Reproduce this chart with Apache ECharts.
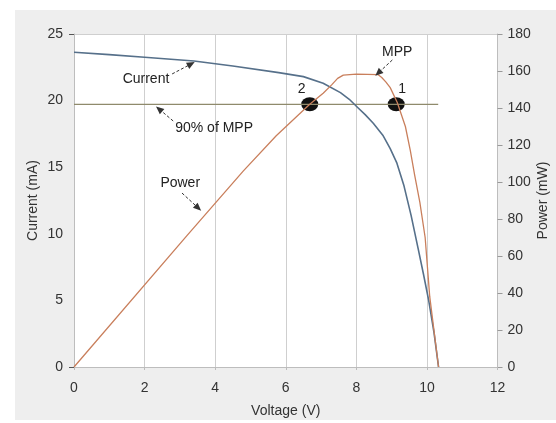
<!DOCTYPE html>
<html>
<head>
<meta charset="utf-8">
<script src="https://cdn.jsdelivr.net/npm/echarts@6/dist/echarts.min.js"></script>
<style>
html,body{margin:0;padding:0;background:#ffffff;}
#c{width:556px;height:423px;}
</style>
</head>
<body>
<div id="c"></div>
<script>
// ---- data ----
var currentVoltage = [0, 1, 2, 3.4, 4.5, 5.8, 6.5, 7.06, 7.55, 7.8, 8.03, 8.25, 8.48, 8.75, 8.96, 9.15, 9.35, 9.55, 9.75, 9.9, 10.05, 10.2, 10.33];
var currentValues  = [23.63, 23.45, 23.25, 22.97, 22.6, 22.1, 21.8, 21.3, 20.6, 20.1, 19.5, 18.95, 18.3, 17.4, 16.4, 15.3, 13.6, 11.4, 8.9, 7.0, 5.0, 2.6, 0];

var powerVoltage = [0, 3.2, 4.8, 5.73, 6.68, 7.06, 7.3, 7.47, 7.63, 8.0, 8.62, 8.72, 8.84, 8.96, 9.16, 9.39, 9.53, 9.65, 9.8, 9.95, 10.08, 10.33];
var powerValues  = [0, 71, 106, 125, 142, 148, 152.5, 156, 157.8, 158.3, 158, 156.5, 154, 151, 143, 130, 117, 104, 89, 70, 38, 0];

var mppLevel = 142;            // 90% of MPP (mW)
var mppLineVoltage = [0, 10.32];
var markedVoltage = [6.68, 9.13];
var markedNames = ['2', '1'];

var xTicks = [0, 2, 4, 6, 8, 10, 12];
var currentTicks = [0, 5, 10, 15, 20, 25];
var powerTicks = [0, 20, 40, 60, 80, 100, 120, 140, 160, 180];

// annotation anchors in (V, mA)
var annotTexts = ['Current', '90% of MPP', 'Power', 'MPP'];
var annotTextAt = [[2.04, 21.6], [3.97, 17.94], [3.01, 13.81], [9.16, 23.65]];
var annotArrowFrom = [[2.78, 22.0], [2.81, 18.47], [3.06, 13.06], [9.02, 23.05]];
var annotArrowTo = [[3.32, 22.75], [2.41, 19.37], [3.52, 11.94], [8.62, 22.07]];

function zip(a, b) { return a.map(function (v, i) { return [v, b[i]]; }); }

var font = '"Liberation Sans", Arial, sans-serif';
var txt = '#333333';
var fs = 14;

var chart = echarts.init(document.getElementById('c'), null, {renderer: 'canvas'});
chart.setOption({
  animation: false,
  backgroundColor: '#ffffff',
  graphic: [{
    type: 'rect', z: -10, silent: true,
    shape: {x: 15, y: 10, width: 541, height: 410},
    style: {fill: '#eeeeee'}
  }],
  grid: {left: 74, right: 58.5, top: 34, bottom: 56, show: true, backgroundColor: '#ffffff', borderWidth: 0,
    containLabel: false, outerBoundsMode: 'none'},
  xAxis: {
    type: 'value', min: 0, max: 12, interval: 2,
    name: 'Voltage (V)', nameLocation: 'middle', nameGap: 37, nameMoveOverlap: false,
    nameTextStyle: {color: txt, fontSize: fs, fontFamily: font},
    axisLine: {show: true, lineStyle: {color: '#bdbdbd', width: 1}},
    axisTick: {show: true, length: 3, lineStyle: {color: '#bbbbbb'}},
    axisLabel: {margin: 14, color: txt, fontSize: fs, fontFamily: font},
    splitLine: {show: true, lineStyle: {color: '#cfcfcf', width: 1}}
  },
  yAxis: [{
    type: 'value', min: 0, max: 25, interval: 5,
    name: 'Current (mA)', nameLocation: 'middle', nameGap: 34, nameMoveOverlap: false,
    nameTextStyle: {color: txt, fontSize: fs, fontFamily: font},
    axisLine: {show: true, lineStyle: {color: '#bdbdbd', width: 1}},
    axisTick: {show: true, length: 5, customValues: [0, 25], lineStyle: {color: '#555555'}},
    axisLabel: {margin: 11, color: txt, fontSize: fs, fontFamily: font},
    splitLine: {show: true, lineStyle: {color: '#cfcfcf', width: 1}}
  }, {
    type: 'value', min: 0, max: 180, interval: 20, position: 'right',
    name: 'Power (mW)', nameLocation: 'middle', nameGap: 39, nameMoveOverlap: false,
    nameTextStyle: {color: txt, fontSize: fs, fontFamily: font},
    axisLine: {show: true, lineStyle: {color: '#bdbdbd', width: 1}},
    axisTick: {show: true, length: 5, lineStyle: {color: '#999999'}},
    axisLabel: {margin: 10, color: txt, fontSize: fs, fontFamily: font},
    splitLine: {show: false}
  }],
  series: [{
    name: 'MPP90', type: 'line', yAxisIndex: 1, symbol: 'none', silent: true,
    data: mppLineVoltage.map(function (v) { return [v, mppLevel]; }),
    lineStyle: {color: '#8f8a6c', width: 1.3}
  }, {
    name: 'Current', type: 'line', yAxisIndex: 0, symbol: 'none', silent: true,
    smooth: false,
    data: zip(currentVoltage, currentValues),
    lineStyle: {color: '#56708a', width: 1.6, join: 'round'},
    markLine: {
      silent: true, symbol: ['none', 'triangle'], symbolSize: [7, 8], precision: 3,
      label: {show: false},
      lineStyle: {type: [3, 2], color: '#333333', width: 1},
      data: annotArrowFrom.map(function (f, i) {
        return [{coord: f}, {coord: annotArrowTo[i]}];
      })
    },
    markPoint: {
      silent: true, symbol: 'circle', symbolSize: 0,
      label: {show: true, position: 'inside', color: '#222222', fontSize: fs, fontFamily: font,
        formatter: function (p) { return p.name; }},
      data: annotTexts.map(function (t, i) { return {name: t, coord: annotTextAt[i]}; })
    }
  }, {
    name: 'Power', type: 'line', yAxisIndex: 1, symbol: 'none', silent: true,
    smooth: false,
    data: zip(powerVoltage, powerValues),
    lineStyle: {color: '#c97f5c', width: 1.3, join: 'round'}
  }, {
    name: 'Points', type: 'scatter', yAxisIndex: 1, silent: true,
    symbol: 'circle', symbolSize: [17, 14],
    itemStyle: {color: '#111111', opacity: 1},
    data: markedVoltage.map(function (v, i) {
      return {name: markedNames[i], value: [v, mppLevel],
        label: {offset: i === 0 ? [-8, 0] : [6, 0]}};
    }),
    label: {show: true, position: 'top', distance: 1, color: '#222222', fontSize: fs, fontFamily: font,
      formatter: function (p) { return p.name; }}
  }]
});
</script>
</body>
</html>
